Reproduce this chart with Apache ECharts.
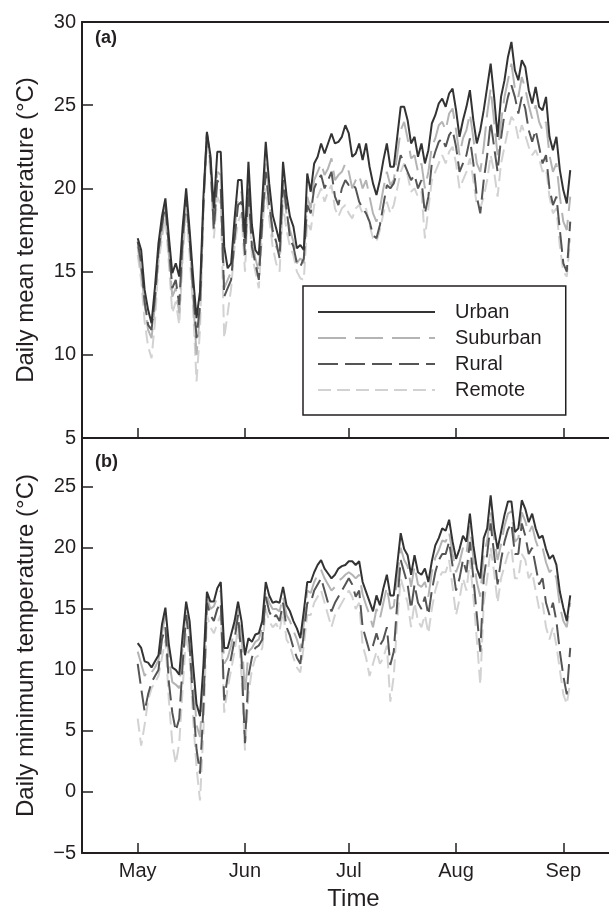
<!DOCTYPE html>
<html>
<head>
<meta charset="utf-8">
<script src="https://cdn.jsdelivr.net/npm/echarts@6/dist/echarts.min.js"></script>
<style>
  html, body { margin: 0; padding: 0; background: #fff; }
  #chart { width: 609px; height: 912px; }
</style>
</head>
<body>
<div id="chart"></div>
<script>
// day index 0 = 1 May, one value per day up to 3 Sep
const monthTicks = [0, 31, 61, 92, 123]
const monthLabels = ['May', 'Jun', 'Jul', 'Aug', 'Sep']
const seriesNames = ['Urban', 'Suburban', 'Rural', 'Remote']

// (a) daily mean temperature
const meanUrban = [
  17.0, 16.3, 13.9, 12.7, 11.9, 14.1, 16.7, 18.3, 19.4, 17.1,
  14.9, 15.5, 14.7, 17.7, 20.0, 17.5, 14.7, 12.2, 13.8, 19.5,
  23.4, 22.0, 18.8, 22.2, 22.2, 16.5, 15.2, 15.5, 18.2, 20.5,
  20.5, 17.0, 21.6, 17.8, 16.3, 16.0, 19.3, 22.8, 20.3, 18.4,
  17.6, 16.8, 21.6, 19.6, 18.3, 17.7, 16.4, 16.6, 16.3, 20.9,
  19.8, 21.5, 21.9, 22.7, 22.1, 22.7, 23.3, 22.7, 22.8, 23.1,
  23.8, 23.3, 21.9, 22.1, 22.7, 21.7, 22.7, 21.3, 20.3, 19.6,
  20.5, 21.7, 22.7, 21.3, 21.3, 23.1, 24.9, 24.9, 24.1, 22.7,
  23.1, 21.9, 22.7, 21.5, 22.3, 23.9, 24.4, 25.1, 25.4, 24.9,
  25.7, 26.0, 24.7, 23.1, 24.1, 24.9, 25.9, 24.1, 22.7, 23.5,
  24.7, 26.1, 27.5, 25.5, 23.1, 25.5, 26.5, 27.9, 28.8, 27.1,
  26.5, 27.7, 27.3, 25.9, 25.1, 26.1, 24.9, 24.7, 25.5, 23.1,
  22.3, 23.1, 21.1, 19.9, 19.1, 21.1
]
const meanSuburban = [
  16.5, 15.0, 13.0, 11.5, 11.0, 13.0, 16.0, 17.5, 18.8, 16.0,
  13.5, 14.0, 12.5, 16.5, 19.2, 16.8, 13.5, 10.0, 12.5, 19.0,
  23.2, 21.5, 18.0, 21.0, 20.8, 14.0, 14.5, 15.0, 17.5, 19.5,
  19.8, 16.5, 20.5, 17.0, 15.8, 15.0, 18.5, 21.5, 19.5, 17.0,
  16.5, 16.0, 20.0, 18.5, 17.5, 16.8, 15.5, 15.8, 15.5, 19.5,
  18.8, 20.5, 21.0, 21.5, 20.8, 21.2, 21.8, 20.5, 20.8, 21.0,
  21.5, 21.0, 20.0, 20.5, 20.8, 20.0, 20.5, 19.5, 18.5, 18.0,
  18.8, 20.0, 21.0, 20.2, 20.5, 22.0, 23.5, 24.0, 23.0, 21.8,
  22.0, 21.0, 21.5, 20.0, 21.0, 22.5, 23.0, 23.8, 24.0, 23.5,
  24.5, 24.8, 23.5, 22.0, 23.0, 23.5, 24.5, 23.0, 21.5, 21.0,
  22.5, 24.5, 26.0, 24.0, 22.0, 24.0, 25.5, 26.5, 27.5, 26.0,
  25.5, 26.7, 26.0, 25.0, 24.2, 25.0, 24.0, 23.5, 24.0, 22.0,
  21.0, 21.5, 19.5, 18.0, 17.5, 19.5
]
const meanRural = [
  16.8, 15.5, 13.2, 11.8, 11.5, 13.5, 16.2, 17.8, 19.0, 16.5,
  14.0, 14.5, 13.0, 17.0, 19.5, 17.0, 14.0, 11.0, 13.0, 19.2,
  23.3, 21.8, 17.5, 20.5, 20.0, 13.5, 14.0, 14.5, 17.0, 19.0,
  19.2, 16.0, 20.0, 16.5, 15.5, 14.5, 18.0, 21.0, 19.0, 17.5,
  16.8, 15.8, 20.5, 18.8, 17.0, 16.5, 15.5, 15.3, 15.8, 19.0,
  18.5, 20.0, 20.5, 20.8, 20.0, 20.5, 21.0, 19.5, 19.0, 20.0,
  20.5, 20.2, 20.3, 20.0, 19.2, 18.8, 18.5, 18.0, 17.2, 17.0,
  17.8, 19.0, 20.2, 20.0, 20.3, 21.0, 22.0, 21.5, 21.0, 20.5,
  20.8, 20.0, 20.5, 18.5, 19.5, 21.5, 22.2, 22.8, 23.0, 22.5,
  23.2, 23.5, 22.5, 21.0, 21.5, 22.0, 23.0, 21.5, 19.5, 18.5,
  20.5, 22.0, 24.0, 22.5, 21.0, 23.0, 24.5, 25.5, 26.2, 25.5,
  24.5, 25.5, 24.8, 23.5, 22.8, 23.5, 22.5, 21.5, 22.0, 20.0,
  19.0, 19.5, 17.5, 15.5, 15.0, 18.0
]
const meanRemote = [
  16.0, 14.5, 12.0, 10.5, 9.8, 12.0, 15.5, 17.0, 18.2, 15.5,
  12.5, 13.2, 11.8, 15.8, 18.8, 16.0, 12.8, 8.4, 11.5, 18.5,
  23.0, 21.0, 17.0, 19.5, 19.0, 11.0, 12.5, 14.0, 16.5, 18.0,
  18.5, 15.0, 19.5, 16.0, 15.0, 14.0, 17.5, 20.0, 18.2, 16.5,
  15.5, 15.0, 19.0, 17.5, 16.5, 16.0, 15.0, 14.6, 14.5, 18.0,
  17.5, 19.0, 19.5, 20.0, 19.2, 19.8, 20.2, 18.8, 18.3, 18.8,
  19.0, 18.5, 18.2, 18.8, 19.0, 18.5, 18.8, 17.8, 17.0, 16.8,
  17.5, 18.5, 19.2, 18.5, 19.0, 20.0, 21.0, 21.5, 20.8, 19.8,
  20.0, 19.5, 19.8, 17.0, 18.8, 20.5, 21.0, 21.5, 22.0, 21.5,
  22.2, 22.5, 21.5, 20.0, 20.5, 21.0, 21.8, 20.5, 19.0, 18.8,
  19.5, 20.5, 22.0, 21.0, 19.5, 21.5, 22.5, 23.5, 24.3, 24.0,
  23.0, 23.8, 23.2, 22.5, 22.0, 22.3, 21.8, 21.0, 21.2, 19.5,
  18.5, 18.8, 16.5, 15.0, 14.7, 17.0
]

// (b) daily minimum temperature
const minUrban = [
  12.2, 11.8, 10.7, 10.6, 10.2, 10.7, 11.2, 13.7, 15.1, 12.1,
  10.2, 10.0, 9.6, 12.9, 15.6, 14.0, 10.4, 7.2, 6.2, 10.4,
  16.4, 15.6, 15.6, 16.7, 17.2, 11.8, 11.8, 12.9, 14.0, 15.6,
  14.0, 11.2, 12.6, 12.3, 12.9, 13.0, 14.0, 17.2, 16.1, 15.5,
  15.6, 15.5, 16.8, 15.3, 14.8, 14.0, 13.4, 12.6, 14.8, 17.2,
  17.2, 18.0, 18.6, 19.0, 18.3, 17.9, 17.5, 17.8, 18.3, 18.5,
  18.6, 18.9, 18.9, 18.6, 18.9, 17.2, 16.4, 15.6, 14.8, 16.1,
  15.3, 16.7, 17.8, 16.1, 16.1, 18.6, 21.2, 19.9, 19.4, 17.8,
  19.4, 18.0, 17.8, 18.3, 17.2, 18.9, 20.2, 20.8, 21.6, 21.4,
  22.3, 20.5, 19.1, 19.9, 21.0, 20.5, 22.8, 20.2, 18.3, 17.5,
  20.8, 21.6, 24.3, 21.6, 19.9, 21.3, 22.7, 23.8, 23.8, 21.3,
  21.6, 23.9, 23.2, 22.1, 22.8, 21.6, 20.8, 21.0, 19.9, 19.1,
  19.4, 18.6, 16.4, 15.1, 14.0, 16.1
]
const minSuburban = [
  11.5, 10.5, 9.5, 10.0, 9.8, 10.2, 10.8, 13.0, 14.5, 11.0,
  9.0, 8.8, 8.5, 12.0, 15.0, 13.2, 9.5, 5.5, 4.5, 9.5,
  16.0, 15.0, 15.2, 16.0, 16.5, 10.5, 11.0, 12.0, 13.5, 15.0,
  13.0, 8.0, 11.5, 11.8, 12.3, 12.5, 13.5, 16.5, 15.5, 15.0,
  15.0, 14.8, 16.0, 14.5, 14.0, 13.2, 12.5, 11.5, 13.8, 16.5,
  16.3, 17.2, 17.8, 18.2, 17.5, 17.0, 16.5, 16.8, 17.3, 17.5,
  17.8, 18.0, 17.8, 17.5, 17.8, 16.2, 15.3, 14.5, 13.5, 15.0,
  14.2, 15.5, 16.8, 15.0, 15.2, 17.5, 20.0, 19.0, 18.5, 16.8,
  18.5, 17.0, 16.8, 17.2, 16.0, 18.0, 19.2, 19.8, 20.6, 20.5,
  21.3, 19.5, 18.0, 18.8, 20.0, 19.5, 21.8, 19.2, 17.2, 16.0,
  19.5, 20.6, 23.0, 20.8, 19.0, 20.3, 21.8, 22.8, 23.0, 20.5,
  20.8, 22.9, 22.2, 21.2, 21.8, 20.6, 19.8, 20.0, 18.8, 18.0,
  18.3, 17.5, 15.2, 14.0, 13.5, 15.5
]
const minRural = [
  10.5, 8.5, 6.6, 8.0, 9.0, 9.5, 10.0, 12.5, 13.5, 9.0,
  6.5, 5.0, 6.0, 10.5, 14.5, 12.0, 7.5, 3.5, 1.5, 7.0,
  15.5, 14.5, 14.0, 15.0, 15.5, 7.5, 9.5, 11.0, 12.5, 14.5,
  11.0, 4.0, 9.5, 11.0, 11.8, 12.0, 12.5, 16.0, 14.8, 14.2,
  14.5, 14.0, 15.5, 13.5, 12.8, 11.8, 11.0, 10.5, 13.0, 15.5,
  15.5, 16.5, 17.0, 17.5, 16.5, 15.5, 14.8, 15.5, 16.0, 16.5,
  17.0, 17.5, 17.0, 16.0, 16.5, 13.5, 12.5, 11.5, 12.0, 13.0,
  12.0, 12.5, 13.5, 10.4, 11.5, 15.5, 19.0, 18.0, 17.0, 15.0,
  17.0, 15.5, 15.0, 16.0, 14.5, 16.5, 18.0, 19.0, 19.5, 19.5,
  20.5, 18.5, 16.5, 17.5, 19.0, 18.0, 20.5, 17.5, 14.5, 11.5,
  17.5, 19.5, 22.0, 19.5, 17.0, 19.0, 20.5, 21.5, 22.0, 19.5,
  19.5, 22.0, 21.0, 19.5, 20.0, 18.5, 17.0, 17.5, 15.5, 14.5,
  15.5, 14.0, 11.5, 9.5, 8.0, 11.8
]
const minRemote = [
  6.0, 3.8, 5.5, 7.5, 8.5, 9.0, 9.5, 11.0, 12.5, 7.5,
  4.0, 2.3, 4.0, 8.5, 13.0, 11.0, 6.0, 2.0, -0.7, 5.0,
  14.5, 13.5, 13.0, 13.8, 14.5, 6.5, 8.5, 10.0, 11.5, 13.5,
  9.5, 3.4, 8.0, 10.0, 11.0, 11.2, 11.8, 15.0, 14.0, 13.5,
  13.8, 13.2, 14.8, 12.5, 12.0, 11.0, 10.2, 9.8, 12.0, 14.5,
  14.5, 15.5, 16.0, 16.5, 15.5, 14.5, 13.5, 14.5, 15.0, 15.5,
  16.0, 16.5, 16.0, 15.0, 15.5, 12.0, 11.0, 9.5, 10.5, 11.5,
  10.5, 11.0, 12.0, 7.4, 9.5, 14.0, 17.5, 16.5, 15.5, 13.5,
  15.5, 14.0, 13.5, 14.5, 13.0, 15.0, 16.5, 17.5, 18.0, 18.0,
  19.0, 16.8, 14.5, 15.8, 17.5, 16.5, 19.0, 16.0, 12.5, 8.8,
  15.5, 17.5, 20.0, 18.0, 15.5, 17.5, 18.5, 19.5, 20.0, 17.5,
  17.5, 19.5, 19.0, 17.5, 18.0, 16.5, 15.0, 15.5, 13.5, 12.5,
  13.5, 12.0, 10.0, 8.0, 7.2, 9.0
]

const font = 'Liberation Sans, Arial, sans-serif'
const axisColor = '#231f20'
const styles = {
  Urban: { color: '#333333', type: 'solid', z: 5 },
  Suburban: { color: '#b4b4b4', type: [28, 9], z: 3 },
  Rural: { color: '#555555', type: [20, 7], z: 4 },
  Remote: { color: '#d2d2d2', type: [13, 6], z: 2 }
}

function minus (v) {
  return v < 0 ? '\u2212' + Math.abs(v) : String(v)
}

function makeSeries (name, values, idx) {
  const st = styles[name]
  return {
    name: name,
    type: 'line',
    xAxisIndex: idx,
    yAxisIndex: idx,
    data: values.map((v, i) => [i, v]),
    showSymbol: false,
    symbol: 'none',
    z: st.z,
    lineStyle: { color: st.color, width: 2, type: st.type },
    itemStyle: { color: st.color, opacity: 0 },
    silent: true
  }
}

const xMin = -16.1
const xMax = 136.2

function xAxisBase (gridIndex, showLabels) {
  return {
    type: 'value',
    gridIndex: gridIndex,
    min: xMin,
    max: xMax,
    splitLine: { show: false },
    axisLine: { onZero: false, lineStyle: { color: axisColor, width: 2 } },
    axisTick: { inside: true, length: 10, customValues: monthTicks, lineStyle: { color: axisColor, width: 1.5 } },
    axisLabel: {
      show: showLabels,
      customValues: monthTicks,
      formatter: v => monthLabels[monthTicks.indexOf(v)],
      fontSize: 20,
      fontFamily: font,
      color: '#231f20',
      margin: 8
    }
  }
}

let chartDom = document.getElementById('chart')
let myChart = echarts.init(chartDom, null, { renderer: 'canvas' })

let option = {
  animation: false,
  backgroundColor: '#fff',
  textStyle: { fontFamily: font },
  title: [
    { text: '(a)', left: 90, top: 24, textStyle: { fontSize: 18, fontWeight: 'bold', color: '#231f20', fontFamily: font } },
    { text: '(b)', left: 90, top: 448, textStyle: { fontSize: 18, fontWeight: 'bold', color: '#231f20', fontFamily: font } }
  ],
  legend: {
    data: seriesNames,
    orient: 'vertical',
    left: 303,
    top: 286,
    padding: [16, 24, 15, 14],
    borderColor: axisColor,
    borderWidth: 1.5,
    itemWidth: 117,
    itemHeight: 20,
    itemGap: 6,
    selectedMode: false,
    itemStyle: { opacity: 0 },
    textStyle: { fontSize: 20, fontFamily: font, color: '#231f20', padding: [0, 0, 0, 15] }
  },
  grid: [
    { left: 82, right: 0, top: 22, height: 416 },
    { left: 82, right: 0, top: 438, height: 417 }
  ],
  xAxis: [
    xAxisBase(0, false),
    xAxisBase(1, true),
    {
      type: 'value', gridIndex: 0, position: 'top', min: xMin, max: xMax,
      splitLine: { show: false }, axisTick: { show: false }, axisLabel: { show: false },
      axisLine: { onZero: false, lineStyle: { color: axisColor, width: 2 } }
    }
  ],
  yAxis: [
    {
      type: 'value',
      gridIndex: 0,
      min: 5,
      max: 30,
      interval: 5,
      name: 'Daily mean temperature (\u00b0C)',
      nameLocation: 'middle',
      nameGap: 44,
      nameTextStyle: { fontSize: 24, fontFamily: font, color: '#231f20' },
      splitLine: { show: false },
      axisLine: { onZero: false, lineStyle: { color: axisColor, width: 2 } },
      axisTick: { inside: true, length: 11, lineStyle: { color: axisColor, width: 1.5 } },
      axisLabel: { fontSize: 20, fontFamily: font, color: '#231f20', margin: 6 }
    },
    {
      type: 'value',
      gridIndex: 1,
      min: -5,
      max: 29,
      name: 'Daily minimum temperature (\u00b0C)',
      nameLocation: 'middle',
      nameGap: 44,
      nameTextStyle: { fontSize: 24, fontFamily: font, color: '#231f20' },
      splitLine: { show: false },
      axisLine: { onZero: false, lineStyle: { color: axisColor, width: 2 } },
      axisTick: { inside: true, length: 11, customValues: [-5, 0, 5, 10, 15, 20, 25], lineStyle: { color: axisColor, width: 1.5 } },
      axisLabel: { customValues: [-5, 0, 5, 10, 15, 20, 25], formatter: minus, fontSize: 20, fontFamily: font, color: '#231f20', margin: 6 }
    }
  ],
  series: [
    makeSeries('Urban', meanUrban, 0),
    makeSeries('Suburban', meanSuburban, 0),
    makeSeries('Rural', meanRural, 0),
    makeSeries('Remote', meanRemote, 0),
    makeSeries('Urban', minUrban, 1),
    makeSeries('Suburban', minSuburban, 1),
    makeSeries('Rural', minRural, 1),
    makeSeries('Remote', minRemote, 1)
  ]
}

// x axis title sits under the lower panel
option.xAxis[1].name = 'Time'
option.xAxis[1].nameLocation = 'middle'
option.xAxis[1].nameGap = 34
option.xAxis[1].nameTextStyle = { fontSize: 24, fontFamily: font, color: '#231f20', padding: [0, 0, 0, 16] }

myChart.setOption(option)
window.onresize = function () {
  myChart.resize()
}
</script>
</body>
</html>
